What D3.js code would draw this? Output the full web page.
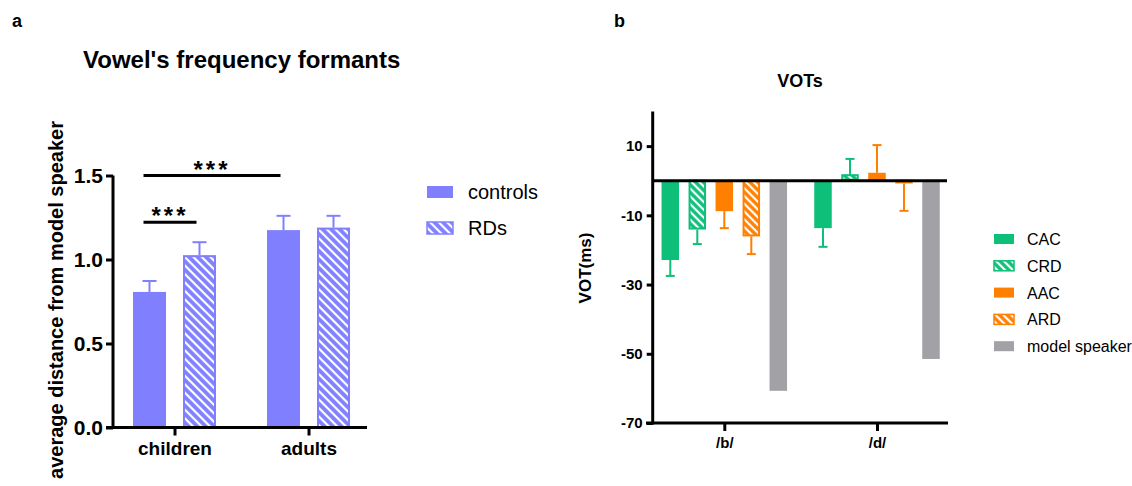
<!DOCTYPE html>
<html>
<head>
<meta charset="utf-8">
<script src="https://cdn.jsdelivr.net/npm/d3@7"></script>
<style>
  body { margin: 0; background: #fff; }
  svg { font-family: "Liberation Sans", Arial, Helvetica, sans-serif; }
</style>
</head>
<body>
<script>
// ---- panel a data
var groupsA = ["children", "adults"];
var seriesA = ["controls", "RDs"];
var meanA = [[0.807, 1.026], [1.175, 1.19]];
var errA = [[0.065, 0.077], [0.085, 0.07]];
var ticksA = [0, 0.5, 1.0, 1.5];
var sigA = [
  { from: ["children", "controls"], to: ["children", "RDs"], y: 1.222, label: "***" },
  { from: ["children", "controls"], to: ["adults", "controls"], y: 1.5, label: "***" }
];

// ---- panel b data
var groupsB = ["/b/", "/d/"];
var seriesB = ["CAC", "CRD", "AAC", "ARD", "model speaker"];
var meanB = [[-22.9, -14.1, -8.8, -16.1, -60.7], [-13.7, 1.6, 2.3, -0.8, -51.5]];
var errB = [[4.6, 4.2, 4.9, 5.1, 0], [5.4, 4.7, 8.0, 7.9, 0]];
var ticksB = [10, -10, -30, -50, -70];

var purple = "#8080ff";
var colorsB = ["#0dbf78", "#0dbf78", "#ff7f00", "#ff7f00", "#a1a1a6"];
var hatchB = [false, true, false, true, false];

var width = 1132, height = 486;

var svg = d3.select("body").append("svg")
  .attr("width", width)
  .attr("height", height);

var defs = svg.append("defs");
function hatch(id, color, size) {
  var p = defs.append("pattern")
    .attr("id", id)
    .attr("patternUnits", "userSpaceOnUse")
    .attr("width", size)
    .attr("height", size)
    .attr("patternTransform", "rotate(-45)");
  p.append("rect").attr("width", size).attr("height", size).attr("fill", color);
  p.append("line")
    .attr("x1", size / 2).attr("x2", size / 2)
    .attr("y1", 0).attr("y2", size)
    .attr("stroke", "#fff")
    .attr("stroke-width", 2.2);
}
hatch("hatchPurple", purple, 6);
hatch("hatchGreen", colorsB[1], 5.5);
hatch("hatchOrange", colorsB[3], 5.5);
var hatchIds = { "#8080ff": "url(#hatchPurple)", "#0dbf78": "url(#hatchGreen)", "#ff7f00": "url(#hatchOrange)" };

// ================= panel a =================
var yA = d3.scaleLinear().domain([0, 1.5]).range([427.5, 175.5]);
var xA = d3.scalePoint().domain(groupsA).range([174.5, 308.5]);
var innerA = d3.scaleBand().domain(seriesA).range([-41.5, 41.5]).paddingInner(0.34);
function cxA(g, s) { return xA(g) + innerA(s) + innerA.bandwidth() / 2; }

svg.append("text").attr("x", 12).attr("y", 27)
  .attr("font-weight", "bold").attr("font-size", 18).text("a");

svg.append("text").attr("x", 83).attr("y", 68)
  .attr("font-weight", "bold").attr("font-size", 24)
  .text("Vowel's frequency formants");

var gA = svg.append("g");

groupsA.forEach(function(g, gi) {
  seriesA.forEach(function(s, si) {
    var v = meanA[gi][si], e = errA[gi][si];
    var x0 = xA(g) + innerA(s), bw = innerA.bandwidth();
    var cx = x0 + bw / 2;
    gA.append("line")
      .attr("x1", cx).attr("x2", cx)
      .attr("y1", yA(v)).attr("y2", yA(v + e))
      .attr("stroke", purple).attr("stroke-width", 2);
    gA.append("line")
      .attr("x1", cx - 7).attr("x2", cx + 7)
      .attr("y1", yA(v + e)).attr("y2", yA(v + e))
      .attr("stroke", purple).attr("stroke-width", 2);
    gA.append("rect")
      .attr("x", x0 + (si ? 1 : 0)).attr("y", yA(v) + (si ? 1 : 0))
      .attr("width", bw - (si ? 2 : 0))
      .attr("height", yA(0) - yA(v) - (si ? 1 : 0))
      .attr("fill", si ? hatchIds[purple] : purple)
      .attr("stroke", si ? purple : "none")
      .attr("stroke-width", 2);
  });
});

var axA = svg.append("g").attr("transform", "translate(113,0)")
  .call(d3.axisLeft(yA).tickValues(ticksA).tickFormat(d3.format(".1f")).tickSize(7).tickPadding(3));
axA.select(".domain").attr("stroke-width", 3).attr("d", "M0," + yA(1.5) + "V" + (yA(0) + 1.5));
axA.selectAll(".tick line").attr("stroke-width", 3);
axA.selectAll(".tick text").attr("font-size", 21).attr("font-weight", "bold").attr("font-family", null);

var axAx = svg.append("g").attr("transform", "translate(0," + yA(0) + ")")
  .call(d3.axisBottom(xA).tickSize(8).tickPadding(6));
axAx.select(".domain").attr("stroke-width", 3).attr("d", "M106,0H367");
axAx.selectAll(".tick line").attr("stroke-width", 3);
axAx.selectAll(".tick text").attr("font-size", 19).attr("font-weight", "bold").attr("font-family", null);

svg.append("text")
  .attr("transform", "translate(63,300) rotate(-90)")
  .attr("text-anchor", "middle")
  .attr("font-weight", "bold").attr("font-size", 20)
  .text("average distance from model speaker");

sigA.forEach(function(b) {
  var x1 = cxA(b.from[0], b.from[1]) - 6;
  var x2 = cxA(b.to[0], b.to[1]) - 3;
  svg.append("line")
    .attr("x1", x1).attr("x2", x2)
    .attr("y1", yA(b.y)).attr("y2", yA(b.y))
    .attr("stroke", "#000").attr("stroke-width", 3);
  svg.append("text")
    .attr("x", (x1 + x2) / 2).attr("y", yA(b.y) + 2)
    .attr("text-anchor", "middle")
    .attr("font-weight", "bold").attr("font-size", 24)
    .attr("letter-spacing", 3)
    .text(b.label);
});

var legA = svg.append("g");
seriesA.forEach(function(s, i) {
  var y = 186 + i * 36;
  legA.append("rect")
    .attr("x", 427).attr("y", y).attr("width", 26).attr("height", 12)
    .attr("fill", i ? hatchIds[purple] : purple)
    .attr("stroke", i ? purple : "none").attr("stroke-width", 1.5);
  legA.append("text")
    .attr("x", 468).attr("y", y + 13)
    .attr("font-size", 20)
    .text(s);
});

// ================= panel b =================
var yB = d3.scaleLinear().domain([-70, 20]).range([423, 111.5]);
var xB = d3.scalePoint().domain(groupsB).range([724.3, 877]);
var innerB = d3.scaleBand().domain(seriesB).range([-62.75, 62.75]).paddingInner(0.352);

svg.append("text").attr("x", 614).attr("y", 27)
  .attr("font-weight", "bold").attr("font-size", 18).text("b");

svg.append("text").attr("x", 800).attr("y", 87)
  .attr("text-anchor", "middle")
  .attr("font-weight", "bold").attr("font-size", 18)
  .text("VOTs");

var gB = svg.append("g");
groupsB.forEach(function(g, gi) {
  seriesB.forEach(function(s, si) {
    var v = meanB[gi][si], e = errB[gi][si];
    var x0 = xB(g) + innerB(s), bw = innerB.bandwidth();
    var cx = x0 + bw / 2;
    var c = colorsB[si];
    var sign = v < 0 ? -1 : 1;
    if (e > 0) {
      var ye = yB(v + sign * e);
      gB.append("line")
        .attr("x1", cx).attr("x2", cx)
        .attr("y1", yB(v)).attr("y2", ye)
        .attr("stroke", c).attr("stroke-width", 2);
      gB.append("line")
        .attr("x1", cx - 4.5).attr("x2", cx + 4.5)
        .attr("y1", ye).attr("y2", ye)
        .attr("stroke", c).attr("stroke-width", 2);
    }
    var top = Math.min(yB(v), yB(0)), h = Math.abs(yB(v) - yB(0));
    if (hatchB[si]) {
      gB.append("rect")
        .attr("x", x0 + 1).attr("y", top)
        .attr("width", bw - 2).attr("height", Math.max(h - 1, 1))
        .attr("fill", hatchIds[c])
        .attr("stroke", c).attr("stroke-width", 2);
    } else {
      gB.append("rect")
        .attr("x", x0).attr("y", top)
        .attr("width", bw).attr("height", h)
        .attr("fill", c);
    }
  });
});

svg.append("line")
  .attr("x1", 652).attr("x2", 947)
  .attr("y1", yB(0)).attr("y2", yB(0))
  .attr("stroke", "#000").attr("stroke-width", 3);

var axB = svg.append("g").attr("transform", "translate(652.7,0)")
  .call(d3.axisLeft(yB).tickValues(ticksB).tickFormat(function(d) { return String(d); }).tickSize(6).tickPadding(4));
axB.select(".domain").attr("stroke-width", 3).attr("d", "M0,111.5V" + (yB(-70) + 1.5));
axB.selectAll(".tick line").attr("stroke-width", 3);
axB.selectAll(".tick text").attr("font-size", 15).attr("font-weight", "bold").attr("font-family", null);

var axBx = svg.append("g").attr("transform", "translate(0," + yB(-70) + ")")
  .call(d3.axisBottom(xB).tickSize(8).tickPadding(6));
axBx.select(".domain").attr("stroke-width", 3).attr("d", "M646,0H948");
axBx.selectAll(".tick line").attr("stroke-width", 3);
axBx.selectAll(".tick text").attr("font-size", 15).attr("font-weight", "bold").attr("font-family", null);

svg.append("text")
  .attr("transform", "translate(591,268) rotate(-90)")
  .attr("text-anchor", "middle")
  .attr("font-weight", "bold").attr("font-size", 17)
  .text("VOT(ms)");

var legB = svg.append("g");
seriesB.forEach(function(s, i) {
  var y = 234 + i * 26.8;
  legB.append("rect")
    .attr("x", 994).attr("y", y).attr("width", 20).attr("height", 10)
    .attr("fill", hatchB[i] ? hatchIds[colorsB[i]] : colorsB[i])
    .attr("stroke", hatchB[i] ? colorsB[i] : "none").attr("stroke-width", 1.5);
  legB.append("text")
    .attr("x", 1027).attr("y", y + 11)
    .attr("font-size", 16)
    .text(s);
});
</script>
</body>
</html>
